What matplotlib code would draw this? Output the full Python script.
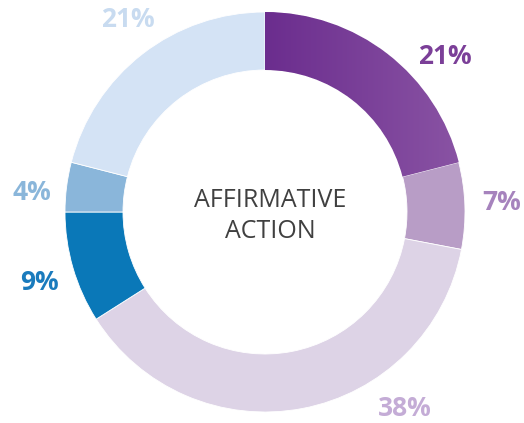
import matplotlib
matplotlib.use("Agg")
import matplotlib.pyplot as plt
import numpy as np
from matplotlib.colors import LinearSegmentedColormap

values = [21, 7, 38, 9, 4, 21]
labels = ["21%", "7%", "38%", "9%", "4%", "21%"]
colors = ["#7a3d96", "#b89dc6", "#ddd3e6", "#0a78b8", "#8ab6da", "#d4e3f5"]
label_colors = ["#7b3f98", "#a683bd", "#c4acd6", "#1a7bbd", "#8ab6da", "#c8dbf0"]
# label positions in data units (layout)
label_pos = [(0.90, 0.775), (1.185, 0.045), (0.70, -0.98),
             (-1.13, -0.355), (-1.165, 0.095), (-0.685, 0.96)]

fig = plt.figure(figsize=(5.24, 4.23), dpi=100)
ax = fig.add_axes([65/524, 11/423, 400/524, 400/423])

wedges, _ = ax.pie(values, colors=colors, startangle=90, counterclock=False,
                   radius=1, wedgeprops=dict(width=0.29, edgecolor='white', linewidth=0.6))

# gradient fill on the first (dark purple) wedge
cmap = LinearSegmentedColormap.from_list("pg", ["#6b2d8e", "#8a54a4"])
grad = np.linspace(0, 1, 256).reshape(1, -1)
im = ax.imshow(grad, cmap=cmap, extent=[0, 1, -0.05, 1.05], aspect='auto', zorder=wedges[0].get_zorder() + 0.1)
im.set_clip_path(wedges[0])

for txt, c, (x, y) in zip(labels, label_colors, label_pos):
    ax.text(x, y, txt, color=c, fontsize=19, fontweight='bold', family='Open Sans',
            ha='center', va='center')

ax.text(0.025, -0.02, "AFFIRMATIVE\nACTION", color='#404040', fontsize=18, family='Open Sans',
        ha='center', va='center', linespacing=1.35)

ax.set_xlim(-1, 1)
ax.set_ylim(-1, 1)
ax.set_aspect('equal')
ax.axis('off')

plt.savefig('out.png', dpi=100)
